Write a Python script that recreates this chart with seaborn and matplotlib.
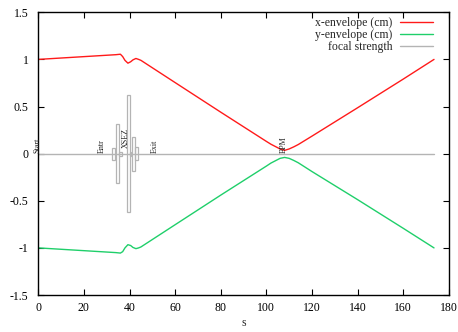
import numpy as np
import pandas as pd
import matplotlib
matplotlib.use("Agg")
import matplotlib.pyplot as plt
import seaborn as sns

# ---- data ----
s_env = [0, 34, 36, 37, 38, 39.3, 40.5, 41.5, 42.8, 44, 45, 60, 80, 100,
         102, 104, 106, 108, 110, 112, 114, 120, 140, 160, 173.5]
x_env = [1.0, 1.05, 1.055, 1.03, 0.99, 0.96, 0.975, 0.995, 1.01, 1.0, 0.99,
         0.754, 0.44, 0.13, 0.1, 0.075, 0.05, 0.035, 0.05, 0.072, 0.097,
         0.186, 0.487, 0.791, 1.0]
y_env = [-1.0, -1.05, -1.055, -1.04, -1.0, -0.966, -0.975, -0.995, -1.008, -1.0, -0.99,
         -0.754, -0.44, -0.132, -0.1, -0.075, -0.05, -0.04, -0.05, -0.072, -0.097,
         -0.19, -0.488, -0.792, -1.0]

s_focal_line = [0, 173.5]
focal_line = [0, 0]

elem_center = [33.0, 34.85, 36.2, 39.5, 40.35, 41.7, 43.15]
elem_width = [1.5, 1.5, 1.2, 1.4, 0.7, 1.4, 1.3]
elem_strength = [0.065, 0.31, 0.02, 0.62, 0.02, 0.18, 0.07]

marker_s = [-0.5, 27.8, 38.5, 51.3, 107.8]
marker_y = [0.0, 0.0, 0.05, 0.0, 0.0]
marker_names = ["Start", "Entr", "XSEZ", "Exit", "BPM"]

x_ticks = [0, 20, 40, 60, 80, 100, 120, 140, 160, 180]
y_ticks = [-1.5, -1, -0.5, 0, 0.5, 1, 1.5]
y_tick_labels = ["-1.5", "-1", "-0.5", "0", "0.5", "1", "1.5"]

# ---- style ----
sns.set_style("ticks")
plt.rcParams["font.family"] = ["Liberation Serif", "DejaVu Serif"]
plt.rcParams["font.size"] = 8.5

fig = plt.figure(figsize=(4.58, 3.32), dpi=100)
ax = fig.add_axes([0.0836, 0.1114, 0.980 - 0.0836, 0.963 - 0.1114])

df_x = pd.DataFrame({"s": s_env, "v": x_env})
df_y = pd.DataFrame({"s": s_env, "v": y_env})
df_f = pd.DataFrame({"s": s_focal_line, "v": focal_line})

sns.lineplot(data=df_x, x="s", y="v", ax=ax, color="#ff1a1a", lw=1.0,
             label="x-envelope (cm)", sort=False)
sns.lineplot(data=df_y, x="s", y="v", ax=ax, color="#1fcf6a", lw=1.0,
             label="y-envelope (cm)", sort=False)
sns.lineplot(data=df_f, x="s", y="v", ax=ax, color="#b4b4b4", lw=1.0,
             label="focal strength", sort=False)

h = np.array(elem_strength)
ax.bar(elem_center, 2 * h, bottom=-h, width=elem_width, fill=False,
       edgecolor="#b4b4b4", linewidth=0.9, align="center")

for sv, yv, name in zip(marker_s, marker_y, marker_names):
    ax.text(sv, yv + 0.005, name, rotation=90, ha="center", va="bottom",
            fontsize=5.8, color="#222222")

ax.set_xlim(0, 180)
ax.set_ylim(-1.5, 1.5)
ax.set_xticks(x_ticks)
ax.set_xticklabels([str(t) for t in x_ticks])
ax.set_yticks(y_ticks)
ax.set_yticklabels(y_tick_labels)
ax.set_xlabel("s", labelpad=2)
ax.set_ylabel("")
ax.tick_params(direction="in", length=4, width=0.8, top=True, right=True,
               labelsize=8.5, colors="black")
ax.tick_params(axis="x", pad=5)
ax.tick_params(axis="y", pad=7)
for sp in ax.spines.values():
    sp.set_visible(True)
    sp.set_linewidth(1.0)
    sp.set_color("black")

leg = ax.legend(loc="upper right", bbox_to_anchor=(0.972, 1.0), frameon=False,
                markerfirst=False, handlelength=2.8, labelspacing=0.0,
                handletextpad=0.6, fontsize=8.5, borderaxespad=0.0)

fig.savefig("out.png", dpi=100)
